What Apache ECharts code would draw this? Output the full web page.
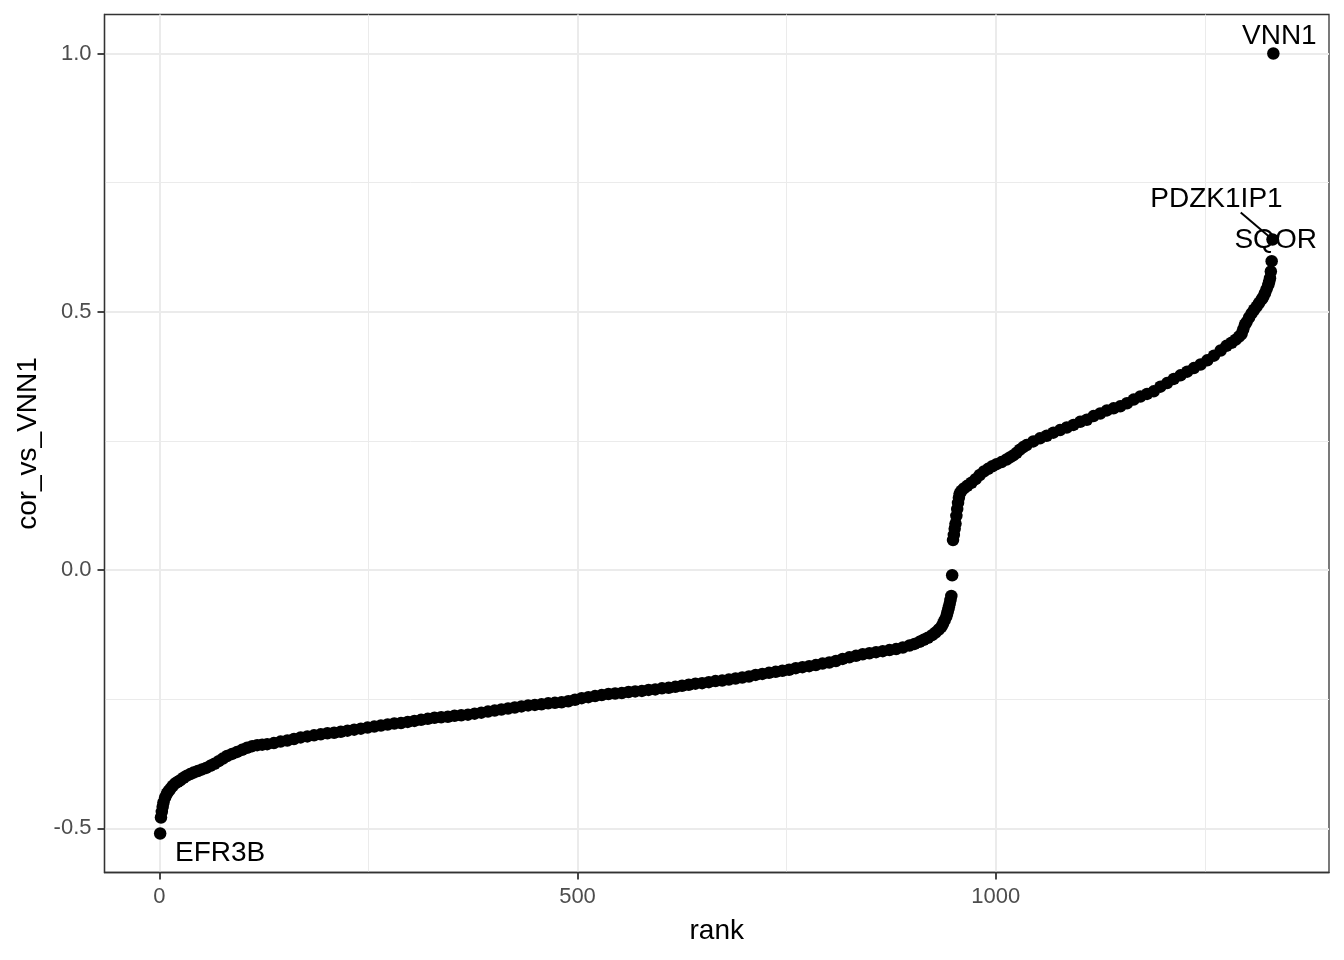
<!DOCTYPE html>
<html style="height: 100%">
<head>
<meta charset="utf-8">
<script src="https://cdn.jsdelivr.net/npm/echarts@6.0.0/dist/echarts.min.js"></script>
<title>cor_vs_VNN1 by rank</title>
</head>
<body style="height: 100%; margin: 0; background: #fff">
<div id="container" style="width: 1344px; height: 960px"></div>
<script type="text/javascript">

// ranks and correlation values
let ranks = [
  1, 2, 3, 4, 5, 7, 9, 11, 13, 16, 19, 22, 25, 29, 33, 37, 41, 46, 51, 56,
  61, 66, 71, 76, 81, 87, 93, 99, 105, 111, 117, 123, 129, 137, 145, 153, 161, 169, 177, 185,
  193, 201, 209, 217, 225, 233, 241, 249, 257, 265, 273, 281, 289, 297, 305, 313, 321, 329, 337, 345,
  353, 361, 369, 377, 385, 393, 401, 409, 417, 425, 433, 441, 449, 457, 465, 473, 481, 489, 497, 505,
  513, 521, 529, 537, 545, 553, 561, 569, 577, 585, 593, 601, 609, 617, 625, 633, 641, 649, 657, 665,
  673, 681, 689, 697, 705, 713, 721, 729, 737, 745, 753, 761, 769, 777, 785, 793, 801, 809, 817, 825,
  833, 841, 849, 857, 865, 873, 881, 889, 897, 903, 909, 914, 919, 924, 928, 932, 935, 937, 939, 941,
  942, 943, 944, 945, 946, 947, 948, 949, 950, 951, 952, 953, 954, 955, 956, 957, 959, 962, 966, 971,
  976, 981, 986, 991, 996, 1001, 1007, 1013, 1017, 1021, 1025, 1029, 1033, 1037, 1045, 1053, 1061, 1069, 1077, 1085, 1093, 1101, 1109,
  1117, 1125, 1133, 1141, 1149, 1157, 1165, 1173, 1181, 1189, 1197, 1205, 1213, 1221, 1229, 1237, 1245, 1253, 1261, 1269,
  1276, 1282, 1287, 1291, 1294, 1296, 1298, 1300, 1303, 1306, 1309, 1312, 1315, 1318, 1320, 1322, 1324, 1326, 1327, 1328,
  1329, 1330, 1331, 1332
];
let corValues = [
  -0.510, -0.479, -0.468, -0.458, -0.450, -0.440, -0.433, -0.428, -0.424, -0.418, -0.413, -0.410, -0.407, -0.402, -0.398, -0.395, -0.392, -0.389, -0.386, -0.383,
  -0.379, -0.375, -0.370, -0.365, -0.360, -0.356, -0.352, -0.348, -0.344, -0.341, -0.339, -0.338, -0.337, -0.335, -0.332, -0.330, -0.327, -0.324, -0.322, -0.320,
  -0.318, -0.316, -0.315, -0.313, -0.311, -0.309, -0.307, -0.305, -0.303, -0.301, -0.299, -0.297, -0.296, -0.294, -0.292, -0.290, -0.288, -0.286, -0.285, -0.284,
  -0.282, -0.281, -0.280, -0.278, -0.276, -0.274, -0.272, -0.270, -0.268, -0.266, -0.264, -0.262, -0.261, -0.260, -0.258, -0.257, -0.256, -0.254, -0.251, -0.248,
  -0.246, -0.244, -0.242, -0.240, -0.239, -0.238, -0.236, -0.235, -0.234, -0.232, -0.231, -0.229, -0.228, -0.226, -0.224, -0.222, -0.220, -0.219, -0.217, -0.215,
  -0.214, -0.212, -0.210, -0.208, -0.206, -0.203, -0.201, -0.199, -0.197, -0.195, -0.193, -0.190, -0.188, -0.186, -0.184, -0.181, -0.179, -0.176, -0.172, -0.169,
  -0.166, -0.163, -0.161, -0.159, -0.157, -0.155, -0.153, -0.150, -0.146, -0.143, -0.139, -0.135, -0.131, -0.126, -0.121, -0.115, -0.110, -0.104, -0.097, -0.090,
  -0.084, -0.078, -0.072, -0.065, -0.058, -0.050, -0.010, 0.058, 0.068, 0.080, 0.090, 0.105, 0.118, 0.130, 0.140, 0.148, 0.153, 0.158, 0.163, 0.169,
  0.176, 0.184, 0.191, 0.196, 0.201, 0.205, 0.209, 0.214, 0.218, 0.222, 0.227, 0.233, 0.238, 0.242, 0.249, 0.255, 0.260, 0.266, 0.271, 0.276, 0.281, 0.287, 0.291,
  0.298, 0.303, 0.309, 0.313, 0.317, 0.323, 0.330, 0.336, 0.341, 0.346, 0.355, 0.362, 0.370, 0.377, 0.384, 0.391, 0.398, 0.406, 0.415, 0.425,
  0.434, 0.440, 0.446, 0.452, 0.457, 0.466, 0.475, 0.480, 0.489, 0.497, 0.504, 0.510, 0.517, 0.524, 0.529, 0.536, 0.544, 0.552, 0.558, 0.565,
  0.578, 0.598, 0.640, 1.000
];

// labelled genes
let labelGenes = ['EFR3B', 'SQOR', 'PDZK1IP1', 'VNN1'];
let labelRanks = [1, 1330, 1331, 1332];

let xTicks = [0, 500, 1000];
let xMinor = [250, 750, 1250];
let yTicks = [-0.5, 0, 0.5, 1.0];
let yMinor = [-0.25, 0.25, 0.75];

// ggplot default expansion of 5% on each side
let xMin = 1 - 0.05 * (1332 - 1), xMax = 1332 + 0.05 * (1332 - 1);
let yMin = -0.510 - 0.05 * 1.51, yMax = 1.0 + 0.05 * 1.51;

let FONT = "'Liberation Sans', Arial, sans-serif";
let DOT = 12.5;

// where ggrepel put each label, relative to its point (px)
let labelOffsets = {
  'EFR3B': [60, 20],
  'SQOR': [4, -21],
  'PDZK1IP1': [-56, -40],
  'VNN1': [6, -17]
};

let points = ranks.map((r, i) => {
  let item = { value: [r, corValues[i]] };
  let k = labelRanks.indexOf(r);
  if (k >= 0) {
    let g = labelGenes[k];
    let off = labelOffsets[g];
    item.label = {
      show: true,
      formatter: g,
      position: [DOT / 2 + off[0], DOT / 2 + off[1]],
      align: 'center',
      verticalAlign: 'middle',
      color: '#000',
      fontSize: 28,
      fontFamily: FONT
    };
  }
  return item;
});

let gridMajor = { color: '#ebebeb', width: 2, type: 'solid' };
let gridMinor = { color: '#ebebeb', width: 1, type: 'solid' };
let markLines = [];
xTicks.forEach(v => markLines.push({ xAxis: v, lineStyle: gridMajor }));
xMinor.forEach(v => markLines.push({ xAxis: v, lineStyle: gridMinor }));
yTicks.forEach(v => markLines.push({ yAxis: v, lineStyle: gridMajor }));
yMinor.forEach(v => markLines.push({ yAxis: v, lineStyle: gridMinor }));

let axisLine = { show: true, onZero: false, lineStyle: { color: '#333333', width: 1.3 } };
let axisTick = { show: true, inside: false, length: 7, lineStyle: { color: '#333333', width: 1.8 } };

let chart = echarts.init(document.getElementById('container'));
chart.setOption({
  animation: false,
  backgroundColor: '#fff',
  grid: {
    left: 104.5, right: 15, top: 14.5, bottom: 87.5,
    show: true, borderColor: '#333333', borderWidth: 1.3, backgroundColor: 'transparent'
  },
  xAxis: {
    type: 'value', min: xMin, max: xMax,
    name: 'rank', nameLocation: 'middle', nameGap: 45,
    nameTextStyle: { fontSize: 28, color: '#000', fontFamily: FONT },
    axisLine: axisLine,
    splitLine: { show: false },
    axisTick: Object.assign({ customValues: xTicks }, axisTick),
    axisLabel: {
      customValues: xTicks, fontSize: 22, color: '#4d4d4d', margin: 13, fontFamily: FONT,
      formatter: v => String(v)
    }
  },
  yAxis: {
    type: 'value', min: yMin, max: yMax,
    name: 'cor_vs_VNN1', nameLocation: 'middle', nameGap: 58,
    nameTextStyle: { fontSize: 28, color: '#000', fontFamily: FONT },
    axisLine: axisLine,
    splitLine: { show: false },
    axisTick: Object.assign({ customValues: yTicks }, axisTick),
    axisLabel: {
      customValues: yTicks, fontSize: 22, color: '#4d4d4d', margin: 13, fontFamily: FONT,
      formatter: v => v.toFixed(1)
    }
  },
  series: [
    {
      // panel grid lines, kept under the points
      type: 'scatter', data: [], z: 0, silent: true,
      markLine: { z: 0, symbol: 'none', silent: true, label: { show: false }, data: markLines, animation: false }
    },
    {
      // repel segment from the PDZK1IP1 label to its point
      type: 'line', z: 3, silent: true, symbol: 'none',
      lineStyle: { color: '#000', width: 2 },
      data: [[1293, 0.692], [1331, 0.640]]
    },
    {
      type: 'scatter', z: 2,
      symbol: 'circle', symbolSize: DOT,
      itemStyle: { color: '#000', opacity: 1 },
      data: points
    }
  ]
});

</script>
</body>
</html>
